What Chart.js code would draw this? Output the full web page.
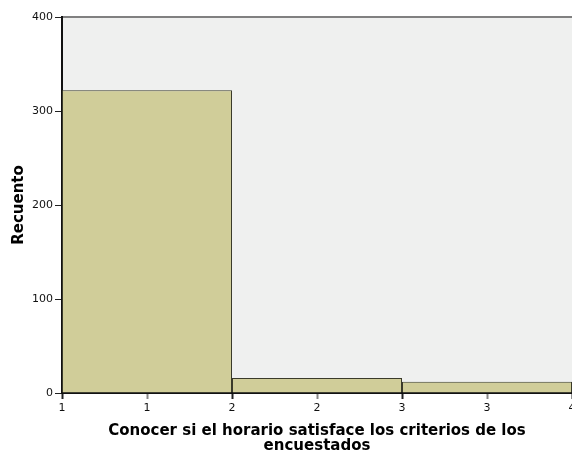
<!DOCTYPE html>
<html>
<head>
<meta charset="utf-8">
<script src="https://cdn.jsdelivr.net/npm/chart.js@4"></script>
<style>
  html, body { margin: 0; padding: 0; overflow: hidden; background: #fff; }
</style>
</head>
<body>
<canvas id="hist" width="600" height="454"></canvas>
<script>
"use strict";

// histogram bins (class centres) and counts
const binCenters = [1.5, 2.5, 3.5];
const counts = [322, 16, 12];
const xTitle = ["Conocer si el horario satisface los criterios de los", "encuestados"];
const yTitle = "Recuento";

const FONT = "'DejaVu Sans', Verdana, sans-serif";

const plotBg = {
    id: "plotBg",
    beforeDraw(chart) {
        const { ctx, chartArea: a } = chart;
        ctx.save();
        ctx.fillStyle = "#eff0ef";
        ctx.fillRect(a.left, a.top, a.right - a.left, a.bottom - a.top);
        ctx.strokeStyle = "#808080";
        ctx.lineWidth = 2;
        ctx.beginPath();
        ctx.moveTo(a.left, a.top);
        ctx.lineTo(a.right + 30, a.top);
        ctx.stroke();
        ctx.restore();
    }
};

const ctx = document.getElementById("hist").getContext("2d");
new Chart(ctx, {
    type: "bar",
    data: {
        datasets: [{
            data: binCenters.map((x, i) => ({ x: x, y: counts[i] })),
            backgroundColor: "#d0cd99",
            borderColor: "#3a3a2a",
            borderWidth: 1,
            // min sample spacing is the 0.5 tick step, bins are 1 wide
            barPercentage: 2,
            categoryPercentage: 1
        }]
    },
    plugins: [plotBg],
    options: {
        responsive: false,
        animation: false,
        layout: { padding: { top: 17, right: 28, left: 0, bottom: 0 } },
        plugins: { legend: { display: false }, tooltip: { enabled: false } },
        scales: {
            x: {
                type: "linear",
                offset: false,
                min: 1,
                max: 4,
                afterFit(s) { s.height = 61; },
                ticks: {
                    stepSize: 0.5,
                    autoSkip: false,
                    maxRotation: 0,
                    padding: 3,
                    color: "#111",
                    font: { family: FONT, size: 11 },
                    callback: v => Math.floor(v)
                },
                grid: {
                    offset: false,
                    drawOnChartArea: false,
                    drawTicks: true,
                    tickLength: 6,
                    tickWidth: 2,
                    tickColor: c => (c.tick && c.tick.value % 1 === 0) ? "#222" : "#888"
                },
                border: { color: "#111", width: 2 },
                title: {
                    display: true,
                    text: xTitle,
                    color: "#000",
                    font: { family: FONT, size: 15, weight: "bold", lineHeight: 1.0 },
                    padding: { top: 0, bottom: 0 }
                }
            },
            y: {
                min: 0,
                max: 400,
                afterFit(s) { s.width = 62; },
                ticks: {
                    stepSize: 100,
                    padding: 2,
                    color: "#111",
                    font: { family: FONT, size: 11 }
                },
                grid: {
                    drawOnChartArea: false,
                    drawTicks: true,
                    tickLength: 7,
                    tickWidth: 1,
                    tickColor: "#222"
                },
                border: { color: "#111", width: 2 },
                title: {
                    display: true,
                    text: yTitle,
                    color: "#000",
                    font: { family: FONT, size: 15, weight: "bold" },
                    padding: { top: 10, bottom: 0 }
                }
            }
        }
    }
});
</script>
</body>
</html>
